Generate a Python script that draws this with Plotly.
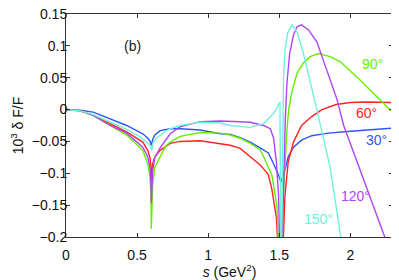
import plotly.graph_objects as go

# ---- data ----
s_30 = [0, 0.1, 0.192, 0.31, 0.427, 0.54, 0.575, 0.592, 0.6, 0.61, 0.625, 0.662, 0.733, 0.803, 0.944,
        1.085, 1.155, 1.225, 1.296, 1.366, 1.39, 1.423, 1.46, 1.49, 1.512, 1.52, 1.53, 1.54, 1.563,
        1.6, 1.657, 1.728, 1.845, 2.0, 2.15, 2.3]
v_30 = [0, -0.001, -0.004, -0.014, -0.025, -0.038, -0.045, -0.05, -0.056, -0.047, -0.040, -0.033, -0.030,
        -0.030, -0.032, -0.038, -0.039, -0.044, -0.051, -0.060, -0.063, -0.068, -0.085, -0.1, -0.114,
        -0.106, -0.1, -0.095, -0.074, -0.059, -0.048, -0.041, -0.037, -0.034, -0.031, -0.029]

s_60 = [0, 0.1, 0.192, 0.31, 0.427, 0.54, 0.575, 0.59, 0.597, 0.6, 0.61, 0.625, 0.662, 0.733, 0.803,
        0.944, 1.085, 1.155, 1.225, 1.296, 1.366, 1.39, 1.423, 1.448, 1.48, 1.512, 1.54, 1.563, 1.6,
        1.657, 1.728, 1.8, 1.845, 1.9, 2.0, 2.1, 2.2, 2.3]
v_60 = [0, -0.002, -0.009, -0.022, -0.035, -0.051, -0.064, -0.075, -0.088, -0.11, -0.085, -0.074, -0.064,
        -0.053, -0.050, -0.049, -0.053, -0.056, -0.061, -0.074, -0.087, -0.093, -0.102, -0.125, -0.17,
        -0.3, -0.135, -0.082, -0.051, -0.025, -0.011, 0.0, 0.004, 0.008, 0.011, 0.012, 0.0115, 0.011]

s_90 = [0, 0.1, 0.192, 0.31, 0.427, 0.54, 0.575, 0.59, 0.597, 0.6, 0.603, 0.61, 0.625, 0.662, 0.7,
        0.733, 0.803, 0.944, 1.085, 1.155, 1.225, 1.296, 1.366, 1.39, 1.448, 1.483, 1.512, 1.525,
        1.54, 1.554, 1.566, 1.589, 1.625, 1.67, 1.718, 1.776, 1.859, 1.93, 2.07, 2.211, 2.3]
v_90 = [0, -0.002, -0.009, -0.025, -0.040, -0.064, -0.085, -0.105, -0.13, -0.187, -0.15, -0.116, -0.09,
        -0.075, -0.058, -0.051, -0.042, -0.036, -0.037, -0.040, -0.045, -0.053, -0.063, -0.074, -0.103,
        -0.15, -0.3, -0.15, -0.08, -0.032, -0.001, 0.028, 0.057, 0.073, 0.083, 0.088, 0.083, 0.075,
        0.046, 0.015, -0.005]

s_120 = [0, 0.1, 0.192, 0.31, 0.427, 0.54, 0.575, 0.59, 0.597, 0.6, 0.61, 0.625, 0.662, 0.7, 0.733,
         0.803, 0.944, 1.085, 1.155, 1.225, 1.296, 1.366, 1.39, 1.437, 1.46, 1.48, 1.495, 1.512,
         1.53, 1.542, 1.554, 1.573, 1.6, 1.625, 1.655, 1.706, 1.765, 1.82, 1.883, 1.906, 1.953, 2.0,
         2.117, 2.246, 2.3]
v_120 = [0, -0.002, -0.009, -0.025, -0.037, -0.059, -0.074, -0.09, -0.11, -0.147, -0.095, -0.075, -0.06,
         -0.048, -0.038, -0.027, -0.019, -0.018, -0.018, -0.019, -0.020, -0.023, -0.025, -0.030, -0.045,
         -0.082, -0.135, -0.3, -0.1, -0.017, 0.041, 0.088, 0.117, 0.13, 0.133, 0.125, 0.106, 0.072,
         0.03, 0.016, -0.025, -0.053, -0.125, -0.2, -0.235]

s_150 = [0, 0.1, 0.192, 0.31, 0.427, 0.5, 0.54, 0.575, 0.595, 0.603, 0.612, 0.63, 0.662, 0.7, 0.733,
         0.803, 0.944, 1.085, 1.155, 1.225, 1.296, 1.39, 1.437, 1.46, 1.49, 1.505, 1.512, 1.518, 1.53,
         1.54, 1.558, 1.59, 1.625, 1.67, 1.718, 1.765, 1.859, 1.934, 1.96]
v_150 = [0, -0.002, -0.008, -0.020, -0.031, -0.040, -0.046, -0.053, -0.058, -0.065, -0.052, -0.046,
         -0.040, -0.034, -0.030, -0.025, -0.020, -0.021, -0.025, -0.027, -0.028, -0.022, -0.012, -0.006,
         0.005, 0.012, -0.3, -0.2, 0.051, 0.093, 0.12, 0.133, 0.122, 0.088, 0.044, -0.001, -0.092,
         -0.2, -0.24]

angles = ["30°", "60°", "90°", "120°", "150°"]
colors = ["#3355F5", "#FF2222", "#66EE00", "#B044F5", "#6FF2DC"]
label_s = [2.183, 2.113, 2.155, 2.035, 1.775]
label_v = [-0.048, -0.006, 0.072, -0.136, -0.172]

x_ticks = [0, 0.5, 1, 1.5, 2]
x_ticktext = ["0", "0.5", "1", "1.5", "2"]
y_ticks = [-0.2, -0.15, -0.1, -0.05, 0, 0.05, 0.1, 0.15]
y_ticktext = ["\u22120.2", "\u22120.15", "\u22120.1", "\u22120.05", "0", "0.05", "0.1", "0.15"]

series_s = [s_30, s_60, s_90, s_120, s_150]
series_v = [v_30, v_60, v_90, v_120, v_150]

FONT = "Liberation Sans, Arial, sans-serif"
fig = go.Figure()
for s, v, c, a in zip(series_s, series_v, colors, angles):
    fig.add_trace(go.Scatter(x=s, y=v, mode="lines", line=dict(color=c, width=1.4),
                             name=a, showlegend=False, hoverinfo="skip"))

for a, c, xs, ys in zip(angles, colors, label_s, label_v):
    fig.add_annotation(x=xs, y=ys, text=a, showarrow=False, font=dict(color=c, size=14, family=FONT))
fig.add_annotation(x=0.465, y=0.100, text="(b)", showarrow=False, font=dict(color="#222", size=14, family=FONT))

axis_common = dict(showgrid=False, zeroline=False, showline=True, linecolor="#333", linewidth=1,
                   mirror="allticks", ticks="inside", ticklen=4, tickcolor="#333", automargin=False,
                   ticklabeloverflow="allow", tickfont=dict(size=14, family=FONT, color="#111"))
fig.update_xaxes(range=[0, 2.3], tickvals=x_ticks, ticktext=x_ticktext, ticklabelstandoff=5,
                 title=dict(text="<i>s</i> (GeV<sup>2</sup>)", font=dict(size=14, family=FONT, color="#111"),
                            standoff=2), **axis_common)
fig.update_yaxes(range=[-0.2, 0.15], tickvals=y_ticks, ticktext=y_ticktext, ticklabelstandoff=-5,
                 title=dict(text="10<sup>3</sup> \u03b4 F/F", font=dict(size=14, family=FONT, color="#111"),
                            standoff=6), **axis_common)
# page body has an 8px default margin, so the figure is sized to end at the window edge
fig.update_layout(width=391, height=272, margin=dict(l=58, r=6, t=6, b=43),
                  plot_bgcolor="white", paper_bgcolor="white")
fig.write_html("out.html")
